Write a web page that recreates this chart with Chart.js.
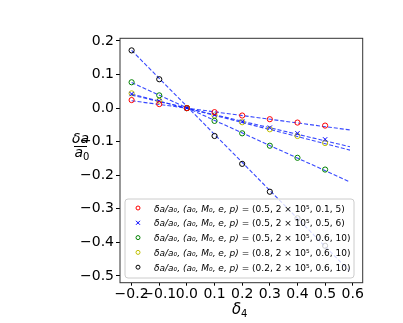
<!DOCTYPE html>
<html>
<head>
<meta charset="utf-8">
<script src="https://cdn.jsdelivr.net/npm/chart.js@4"></script>
<style>
  html, body { margin: 0; padding: 0; background: #fff; }
  #c { display: block; }
</style>
</head>
<body>
<canvas id="c" width="403" height="323"></canvas>
<script>
// datos
const deltas = [-0.2, -0.1, 0.0, 0.1, 0.2, 0.3, 0.4, 0.5];
const redVals = [0.024, 0.012, 0.0, -0.012, -0.022, -0.033, -0.043, -0.052];
const blueVals = [0.042, 0.021, 0.0, -0.020, -0.040, -0.058, -0.075, -0.093];
const greenVals = [0.077, 0.038, 0.0, -0.038, -0.075, -0.112, -0.148, -0.183];
const yellowVals = [0.044, 0.022, 0.0, -0.022, -0.042, -0.063, -0.083, -0.104];
const blackVals = [0.172, 0.086, 0.0, -0.083, -0.166, -0.249, -0.328, -0.410];

// rectas de ajuste (extremos)
const fitX = [-0.2, 0.59];
const redFit = [0.022, -0.065];
const blueFit = [0.039, -0.115];
const greenFit = [0.076, -0.220];
const yellowFit = [0.042, -0.125];
const blackFit = [0.172, -0.487];

const xTicks = [-0.2, -0.1, 0.0, 0.1, 0.2, 0.3, 0.4, 0.5, 0.6];
const xTickLabels = ['\u22120.2', '\u22120.1', '0.0', '0.1', '0.2', '0.3', '0.4', '0.5', '0.6'];
const yTicks = [0.2, 0.1, 0.0, -0.1, -0.2, -0.3, -0.4, -0.5];
const yTickLabels = ['0.2', '0.1', '0.0', '\u22120.1', '\u22120.2', '\u22120.3', '\u22120.4', '\u22120.5'];

const legendParams = [
  '(0.5, 2 \u00d7 10\u2075, 0.1, 5)',
  '(0.5, 2 \u00d7 10\u2075, 0.5, 6)',
  '(0.5, 2 \u00d7 10\u2075, 0.6, 10)',
  '(0.8, 2 \u00d7 10\u2075, 0.6, 10)',
  '(0.2, 2 \u00d7 10\u2075, 0.6, 10)'
];

const FONT = "'DejaVu Sans', sans-serif";
const seriesVals = [redVals, blueVals, greenVals, yellowVals, blackVals];
const seriesFits = [redFit, blueFit, greenFit, yellowFit, blackFit];
const colores = ['#ff0000', '#0000ff', '#008000', '#bfbf00', '#000000'];
const estilos = ['circle', 'crossRot', 'circle', 'circle', 'circle'];

const pts = (xs, ys) => xs.map((x, i) => ({ x: x, y: ys[i] }));

const datasets = [];
seriesVals.forEach((vals, i) => {
  datasets.push({
    data: pts(deltas, vals),
    showLine: false,
    pointStyle: estilos[i],
    pointRadius: estilos[i] === 'crossRot' ? 3 : 2.6,
    pointBorderColor: colores[i],
    pointBackgroundColor: 'rgba(0,0,0,0)',
    pointBorderWidth: 1
  });
});
seriesFits.forEach((f) => {
  datasets.push({
    data: pts(fitX, f),
    showLine: true,
    borderColor: 'rgba(20,40,255,0.85)',
    borderWidth: 1.1,
    borderDash: [4, 2],
    pointRadius: 0,
    fill: false
  });
});

const marco = {
  id: 'marco',
  afterDraw(chart) {
    const ctx = chart.ctx;
    const a = chart.chartArea;

    // leyenda
    ctx.save();
    const bx = 125, by = 199, bw = 229, bh = 79, r = 3;
    ctx.beginPath();
    ctx.moveTo(bx + r, by);
    ctx.arcTo(bx + bw, by, bx + bw, by + bh, r);
    ctx.arcTo(bx + bw, by + bh, bx, by + bh, r);
    ctx.arcTo(bx, by + bh, bx, by, r);
    ctx.arcTo(bx, by, bx + bw, by, r);
    ctx.closePath();
    ctx.fillStyle = 'rgba(255,255,255,0.8)';
    ctx.fill();
    ctx.strokeStyle = '#cccccc';
    ctx.lineWidth = 1;
    ctx.stroke();

    legendParams.forEach((p, i) => {
      const cy = 208 + i * 14.8;
      ctx.strokeStyle = colores[i];
      ctx.lineWidth = 1;
      ctx.beginPath();
      if (estilos[i] === 'crossRot') {
        ctx.moveTo(136, cy - 2); ctx.lineTo(140, cy + 2);
        ctx.moveTo(140, cy - 2); ctx.lineTo(136, cy + 2);
      } else {
        ctx.arc(138, cy, 2, 0, Math.PI * 2);
      }
      ctx.stroke();

      ctx.fillStyle = '#000';
      ctx.textBaseline = 'alphabetic';
      ctx.textAlign = 'left';
      let x = 154;
      ctx.font = 'italic 9px ' + FONT;
      const pref = '\u03b4a/a\u2080, (a\u2080, M\u2080, e, p)';
      ctx.fillText(pref, x, cy + 3.5);
      x += ctx.measureText(pref).width;
      ctx.font = '9px ' + FONT;
      ctx.fillText(' = ' + p, x, cy + 3.5);
    });

    // marco de los ejes
    ctx.strokeStyle = '#333';
    ctx.lineWidth = 1;
    ctx.strokeRect(a.left, a.top, a.right - a.left, a.bottom - a.top);

    // titulo del eje y (fraccion)
    ctx.fillStyle = '#000';
    ctx.textAlign = 'center';
    ctx.font = 'italic 14px ' + FONT;
    ctx.fillText('\u03b4a', 80.5, 143);
    ctx.beginPath();
    ctx.moveTo(74, 146.5); ctx.lineTo(87, 146.5);
    ctx.strokeStyle = '#000';
    ctx.stroke();
    ctx.textAlign = 'left';
    ctx.font = 'italic 14px ' + FONT;
    ctx.fillText('a', 74.5, 157);
    ctx.font = '10px ' + FONT;
    ctx.fillText('0', 83, 160);

    // titulo del eje x
    ctx.font = 'italic 15px ' + FONT;
    ctx.fillText('\u03b4', 232, 314);
    ctx.font = '10px ' + FONT;
    ctx.fillText('4', 241, 317);
    ctx.restore();
  }
};

new Chart(document.getElementById('c'), {
  type: 'scatter',
  data: { datasets: datasets },
  options: {
    responsive: false,
    animation: false,
    layout: { padding: { left: 0, right: 40.3, top: 38.3, bottom: 0 } },
    plugins: { legend: { display: false }, tooltip: { enabled: false } },
    scales: {
      x: {
        type: 'linear',
        min: -0.242,
        max: 0.636,
        afterBuildTicks: (s) => { s.ticks = xTicks.map(v => ({ value: v })); },
        afterFit: (s) => { s.height = 40.3; },
        border: { display: false },
        grid: { drawOnChartArea: false, tickLength: 3, color: '#000', tickColor: '#000' },
        ticks: {
          autoSkip: false,
          maxRotation: 0,
          padding: 0,
          color: '#000',
          font: { family: FONT, size: 14 },
          callback: (v, i) => xTickLabels[i]
        }
      },
      y: {
        type: 'linear',
        min: -0.52,
        max: 0.208,
        afterBuildTicks: (s) => { s.ticks = yTicks.map(v => ({ value: v })); },
        afterFit: (s) => { s.width = 120; },
        border: { display: false },
        grid: { drawOnChartArea: false, tickLength: 4, color: '#000', tickColor: '#000' },
        ticks: {
          autoSkip: false,
          padding: 2,
          color: '#000',
          font: { family: FONT, size: 14 },
          callback: (v, i) => yTickLabels[i]
        }
      }
    }
  },
  plugins: [marco]
});
</script>
</body>
</html>
